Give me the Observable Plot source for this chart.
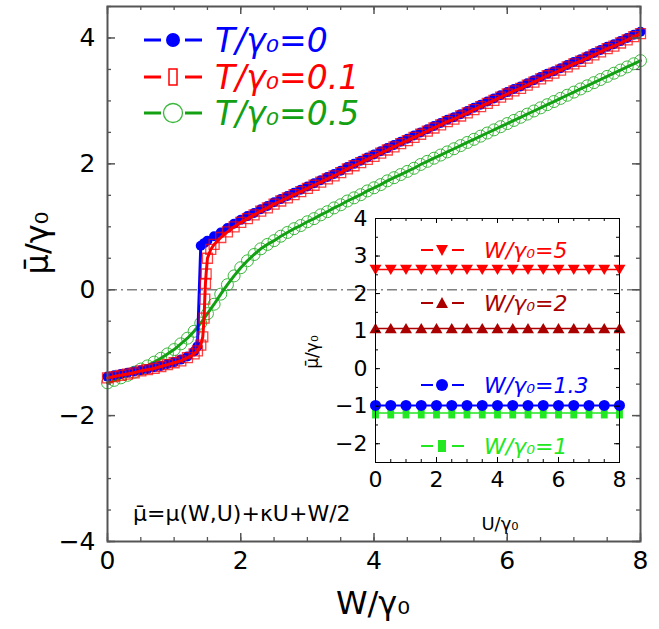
<!DOCTYPE html>
<html><head><meta charset="utf-8">
<script src="https://cdn.jsdelivr.net/npm/d3@7"></script>
<script src="https://cdn.jsdelivr.net/npm/@observablehq/plot@0.6"></script>
<style>
body{margin:0;background:#fff}
#wrap{position:relative;width:659px;height:629px;overflow:hidden}
#inset{position:absolute;left:290px;top:195px}
</style>
</head><body><div id="wrap"><div id="main"></div><div id="inset"></div></div>
<script>
// ---------- main chart data: mu-bar/gamma0 vs W/gamma0 ----------
const wT0 = [0,0.1,0.2,0.3,0.4,0.5,0.6,0.7,0.8,0.9,1.0,1.1,1.2,1.3,1.35,1.4,1.45,1.5,1.6,1.7,1.8,1.9,2.0,2.1,2.2,2.3,2.4,2.5,2.6,2.7,2.8,2.9,3.0,3.1,3.2,3.3,3.4,3.5,3.6,3.7,3.8,3.9,4.0,4.1,4.2,4.3,4.4,4.5,4.6,4.7,4.8,4.9,5.0,5.1,5.2,5.3,5.4,5.5,5.6,5.7,5.8,5.9,6.0,6.1,6.2,6.3,6.4,6.5,6.6,6.7,6.8,6.9,7.0,7.1,7.2,7.3,7.4,7.5,7.6,7.7,7.8,7.9,8.0];
const muT0 = [-1.38,-1.36,-1.34,-1.32,-1.30,-1.28,-1.26,-1.23,-1.21,-1.18,-1.15,-1.11,-1.06,-0.98,-0.90,0.70,0.74,0.78,0.85,0.91,0.98,1.05,1.11,1.17,1.22,1.28,1.33,1.39,1.44,1.49,1.54,1.59,1.64,1.69,1.74,1.79,1.84,1.89,1.95,2.00,2.05,2.10,2.15,2.20,2.25,2.30,2.35,2.40,2.45,2.50,2.55,2.60,2.65,2.70,2.74,2.79,2.84,2.89,2.94,2.99,3.04,3.09,3.14,3.19,3.23,3.28,3.33,3.38,3.43,3.47,3.52,3.57,3.62,3.66,3.71,3.76,3.81,3.86,3.90,3.95,4.00,4.05,4.10];

const wT01 = [0,0.1,0.2,0.3,0.4,0.5,0.6,0.7,0.8,0.9,1.0,1.1,1.2,1.3,1.35,1.4,1.43,1.45,1.46,1.47,1.48,1.5,1.55,1.6,1.7,1.8,1.9,2.0,2.1,2.2,2.3,2.4,2.5,2.6,2.7,2.8,2.9,3.0,3.1,3.2,3.3,3.4,3.5,3.6,3.7,3.8,3.9,4.0,4.1,4.2,4.3,4.4,4.5,4.6,4.7,4.8,4.9,5.0,5.1,5.2,5.3,5.4,5.5,5.6,5.7,5.8,5.9,6.0,6.1,6.2,6.3,6.4,6.5,6.6,6.7,6.8,6.9,7.0,7.1,7.2,7.3,7.4,7.5,7.6,7.7,7.8,7.9,8.0];
const muT01 = [-1.40,-1.38,-1.36,-1.34,-1.32,-1.29,-1.27,-1.25,-1.22,-1.19,-1.16,-1.13,-1.08,-1.02,-0.97,-0.88,-0.75,-0.45,-0.15,0.10,0.25,0.50,0.64,0.72,0.83,0.92,1.00,1.07,1.13,1.19,1.25,1.30,1.36,1.41,1.46,1.51,1.56,1.61,1.66,1.71,1.76,1.81,1.86,1.92,1.97,2.02,2.07,2.12,2.17,2.22,2.27,2.32,2.37,2.42,2.47,2.52,2.57,2.62,2.67,2.71,2.76,2.81,2.86,2.91,2.96,3.01,3.06,3.11,3.16,3.20,3.25,3.30,3.35,3.40,3.44,3.49,3.54,3.59,3.63,3.68,3.73,3.78,3.83,3.87,3.92,3.97,4.02,4.07];

const wT05 = [0,0.1,0.2,0.3,0.4,0.5,0.6,0.7,0.8,0.9,1.0,1.1,1.2,1.3,1.4,1.5,1.6,1.7,1.8,1.9,2.0,2.1,2.2,2.3,2.4,2.5,2.6,2.7,2.8,2.9,3.0,3.1,3.2,3.3,3.4,3.5,3.6,3.7,3.8,3.9,4.0,4.1,4.2,4.3,4.4,4.5,4.6,4.7,4.8,4.9,5.0,5.1,5.2,5.3,5.4,5.5,5.6,5.7,5.8,5.9,6.0,6.1,6.2,6.3,6.4,6.5,6.6,6.7,6.8,6.9,7.0,7.1,7.2,7.3,7.4,7.5,7.6,7.7,7.8,7.9,8.0];
const muT05 = [-1.48,-1.44,-1.40,-1.36,-1.31,-1.26,-1.21,-1.15,-1.09,-1.02,-0.95,-0.86,-0.77,-0.66,-0.53,-0.38,-0.23,-0.07,0.08,0.22,0.35,0.46,0.56,0.65,0.72,0.78,0.85,0.91,0.97,1.02,1.08,1.13,1.19,1.24,1.30,1.35,1.41,1.46,1.51,1.57,1.62,1.67,1.73,1.78,1.83,1.88,1.93,1.99,2.04,2.09,2.14,2.19,2.24,2.29,2.34,2.39,2.44,2.49,2.54,2.59,2.64,2.69,2.74,2.79,2.84,2.89,2.94,2.99,3.04,3.09,3.14,3.19,3.24,3.29,3.34,3.39,3.44,3.49,3.54,3.59,3.64];

// ---------- inset data: mu-bar/gamma0 vs U/gamma0 ----------
const uVals = [0,0.5,1,1.5,2,2.5,3,3.5,4,4.5,5,5.5,6,6.5,7,7.5,8];
const muW5  = [2.64,2.64,2.64,2.64,2.64,2.64,2.64,2.64,2.64,2.64,2.64,2.64,2.64,2.64,2.64,2.64,2.64];
const muW2  = [1.07,1.07,1.07,1.07,1.07,1.07,1.07,1.07,1.07,1.07,1.07,1.07,1.07,1.07,1.07,1.07,1.07];
const muW13 = [-0.98,-0.98,-0.98,-0.98,-0.98,-0.98,-0.98,-0.98,-0.98,-0.98,-0.98,-0.98,-0.98,-0.98,-0.98,-0.98,-0.98];
const muW1  = [-1.18,-1.18,-1.18,-1.18,-1.18,-1.18,-1.18,-1.18,-1.18,-1.18,-1.18,-1.18,-1.18,-1.18,-1.18,-1.18,-1.18];

// ---------- ticks & labels ----------
const xTickLabels = [0,2,4,6,8];
const yTickLabels = [-4,-2,0,2,4];
const insetXTicks = [0,2,4,6,8];
const insetYTicks = [-2,-1,0,1,2,3,4];
const mainLegend = ["T/γ₀=0","T/γ₀=0.1","T/γ₀=0.5"];
const insetLegend = ["W/γ₀=5","W/γ₀=2","W/γ₀=1.3","W/γ₀=1"];

const FONT = "DejaVu Sans";
const BLUE = "#0000ff", RED = "#ff0000", GREEN = "#13a013", GREEN_L = "#3cb83c", DRED = "#aa0000", LGREEN = "#22e822";
const fmt = d => d < 0 ? "\u2212" + (-d) : String(d);

const rows = (ws, ms) => ws.map((w, i) => ({w, mu: ms[i]}));
const r0 = rows(wT0, muT0), r1 = rows(wT01, muT01), r5 = rows(wT05, muT05);

const rad = s => Math.sqrt(s / Math.PI);
const sqSym = {draw(c, s){const r = rad(s); c.moveTo(-r,-r); c.lineTo(r,-r); c.lineTo(r,r); c.lineTo(-r,r); c.closePath();}};
const tallSym = {draw(c, s){const r = rad(s), a = r*0.62; c.moveTo(-a,-r); c.lineTo(a,-r); c.lineTo(a,r); c.lineTo(-a,r); c.closePath();}};
const triDown = {draw(c, s){const r = rad(s); c.moveTo(-r,-r*0.8); c.lineTo(r,-r*0.8); c.lineTo(0,r*0.9); c.closePath();}};
const triUp = {draw(c, s){const r = rad(s); c.moveTo(-r,r*0.8); c.lineTo(r,r*0.8); c.lineTo(0,-r*0.9); c.closePath();}};

// ---------- main plot ----------
const W = 659, H = 629, mL = 107, mR = 19, mT = 6, mB = 88;
const pw = W - mL - mR, ph = H - mT - mB;
const xMinor = d3.range(0, 8.001, 0.5), yMinor = d3.range(-4, 4.501, 0.5);
const FR = "#555";

const main = Plot.plot({
  width: W, height: H, marginLeft: mL, marginRight: mR, marginTop: mT, marginBottom: mB,
  style: {fontFamily: FONT, background: "white", color: "black"},
  x: {domain: [0, 8], axis: null},
  y: {domain: [-4, 4.5], axis: null},
  marks: [
    Plot.ruleY([0], {stroke: "#808080", strokeWidth: 1.5, strokeDasharray: "10,4,2,4"}),
    Plot.dot(r5, {x: "w", y: "mu", r: 6, stroke: GREEN_L, strokeWidth: 1, fill: "none"}),
    Plot.line(r5, {x: "w", y: "mu", stroke: GREEN, strokeWidth: 3}),
    Plot.dot(r0, {x: "w", y: "mu", r: 5, fill: BLUE, stroke: "none"}),
    Plot.line(r0, {x: "w", y: "mu", stroke: BLUE, strokeWidth: 3}),
    Plot.dot(r1, {x: "w", y: "mu", r: 5, symbol: sqSym, stroke: RED, strokeOpacity: 0.75, strokeWidth: 1.3, fill: "none"}),
    Plot.line(r1, {x: "w", y: "mu", stroke: RED, strokeWidth: 3}),
    Plot.frame({stroke: FR, strokeWidth: 2}),
    Plot.tickX(xMinor, {x: d => d, insetTop: ph - 4, stroke: FR, strokeWidth: 1.3}),
    Plot.tickX(xMinor, {x: d => d, insetBottom: ph - 4, stroke: FR, strokeWidth: 1.3}),
    Plot.tickX(xTickLabels, {x: d => d, insetTop: ph - 8, stroke: FR, strokeWidth: 1.5}),
    Plot.tickX(xTickLabels, {x: d => d, insetBottom: ph - 8, stroke: FR, strokeWidth: 1.5}),
    Plot.tickY(yMinor, {y: d => d, insetRight: pw - 4, stroke: FR, strokeWidth: 1.3}),
    Plot.tickY(yMinor, {y: d => d, insetLeft: pw - 4, stroke: FR, strokeWidth: 1.3}),
    Plot.tickY(yTickLabels, {y: d => d, insetRight: pw - 8, stroke: FR, strokeWidth: 1.5}),
    Plot.tickY(yTickLabels, {y: d => d, insetLeft: pw - 8, stroke: FR, strokeWidth: 1.5}),
    Plot.axisX(xTickLabels, {tickSize: 0, tickPadding: 10, fontSize: 25, label: null, fill: "black", tickFormat: fmt}),
    Plot.axisY(yTickLabels, {tickSize: 0, tickPadding: 12, fontSize: 25, label: null, fill: "black", tickFormat: fmt})
  ]
});
document.getElementById("main").appendChild(main);

const ms = d3.select(main);
ms.append("text").attr("x", 373).attr("y", 614).attr("text-anchor", "middle")
  .attr("font-size", 32).attr("font-family", FONT).text("W/γ₀");
ms.append("text").attr("transform", "translate(48,243) rotate(-90)").attr("text-anchor", "middle")
  .attr("font-size", 32).attr("font-family", FONT).text("μ̄/γ₀");
ms.append("text").attr("x", 133).attr("y", 521).attr("text-anchor", "start").attr("font-size", 22).attr("font-family", FONT)
  .text("μ̄=μ(W,U)+κU+W/2");

// main legend
const mlCol = [BLUE, RED, GREEN], mlY = [40, 77, 113];
mainLegend.forEach((lab, i) => {
  const g = ms.append("g"), y = mlY[i], c = mlCol[i];
  g.append("line").attr("x1", 144).attr("x2", 161).attr("y1", y).attr("y2", y).attr("stroke", c).attr("stroke-width", 3);
  g.append("line").attr("x1", 185).attr("x2", 202).attr("y1", y).attr("y2", y).attr("stroke", c).attr("stroke-width", 3);
  if (i === 0) g.append("circle").attr("cx", 173).attr("cy", y).attr("r", 7).attr("fill", c);
  if (i === 1) g.append("rect").attr("x", 169).attr("y", y - 8).attr("width", 8).attr("height", 16).attr("fill", "none").attr("stroke", c).attr("stroke-width", 1.5);
  if (i === 2) g.append("circle").attr("cx", 173).attr("cy", y).attr("r", 9.5).attr("fill", "none").attr("stroke", GREEN_L).attr("stroke-width", 1.3);
  g.append("text").attr("x", 215).attr("y", y + 12).attr("text-anchor", "start").attr("font-size", 33).attr("font-style", "italic")
    .attr("font-family", FONT).attr("fill", c).text(lab);
});

// ---------- inset ----------
const IW = 340, IH = 345, iL = 85, iR = 11, iT = 23, iB = 78;
const ipw = IW - iL - iR, iph = IH - iT - iB;
const uMinor = d3.range(0, 8.001, 0.5), mMinor = d3.range(-2.5, 4.001, 0.5);
const rw5 = rows(uVals, muW5), rw2 = rows(uVals, muW2), rw13 = rows(uVals, muW13), rw1 = rows(uVals, muW1);

const inset = Plot.plot({
  width: IW, height: IH, marginLeft: iL, marginRight: iR, marginTop: iT, marginBottom: iB,
  style: {fontFamily: FONT, background: "transparent", color: "black"},
  x: {domain: [0, 8], axis: null},
  y: {domain: [-2.5, 4], axis: null},
  marks: [
    Plot.line(rw5, {x: "w", y: "mu", stroke: RED, strokeWidth: 1.5}),
    Plot.dot(rw5, {x: "w", y: "mu", r: 6, symbol: triDown, fill: RED, stroke: "none"}),
    Plot.line(rw2, {x: "w", y: "mu", stroke: DRED, strokeWidth: 1.5}),
    Plot.dot(rw2, {x: "w", y: "mu", r: 6, symbol: triUp, fill: DRED, stroke: "none"}),
    Plot.line(rw1, {x: "w", y: "mu", stroke: LGREEN, strokeWidth: 1.5}),
    Plot.dot(rw1, {x: "w", y: "mu", r: 5.5, symbol: tallSym, fill: LGREEN, stroke: "none"}),
    Plot.line(rw13, {x: "w", y: "mu", stroke: BLUE, strokeWidth: 2}),
    Plot.dot(rw13, {x: "w", y: "mu", r: 5.5, fill: BLUE, stroke: "none"}),
    Plot.frame({stroke: "black", strokeWidth: 1}),
    Plot.tickX(uMinor, {x: d => d, insetTop: iph - 3, stroke: "black"}),
    Plot.tickX(uMinor, {x: d => d, insetBottom: iph - 3, stroke: "black"}),
    Plot.tickX(insetXTicks, {x: d => d, insetTop: iph - 5, stroke: "black"}),
    Plot.tickX(insetXTicks, {x: d => d, insetBottom: iph - 5, stroke: "black"}),
    Plot.tickY(mMinor, {y: d => d, insetRight: ipw - 3, stroke: "black"}),
    Plot.tickY(mMinor, {y: d => d, insetLeft: ipw - 3, stroke: "black"}),
    Plot.tickY(insetYTicks, {y: d => d, insetRight: ipw - 5, stroke: "black"}),
    Plot.tickY(insetYTicks, {y: d => d, insetLeft: ipw - 5, stroke: "black"}),
    Plot.axisX(insetXTicks, {tickSize: 0, tickPadding: 9, fontSize: 22, label: null, fill: "black", tickFormat: fmt}),
    Plot.axisY(insetYTicks, {tickSize: 0, tickPadding: 8, fontSize: 22, label: null, fill: "black", tickFormat: fmt})
  ]
});
document.getElementById("inset").appendChild(inset);
const is = d3.select(inset);
const ox = 290, oy = 195;
is.append("text").attr("x", 500 - ox).attr("y", 530 - oy).attr("text-anchor", "middle")
  .attr("font-size", 18).attr("font-family", FONT).text("U/γ₀");
is.append("text").attr("transform", `translate(${318 - ox},${352 - oy}) rotate(-90)`).attr("text-anchor", "middle")
  .attr("font-size", 17).attr("font-family", FONT).text("μ̄/γ₀");

const ilCol = [RED, DRED, BLUE, LGREEN];
const ilY = [250, 303, 385, 446], ilSym = ["down", "up", "dot", "rect"];
insetLegend.forEach((lab, i) => {
  const g = is.append("g").attr("transform", `translate(${-ox},${-oy})`), y = ilY[i], c = ilCol[i];
  g.append("line").attr("x1", 421).attr("x2", 433).attr("y1", y).attr("y2", y).attr("stroke", c).attr("stroke-width", 2);
  g.append("line").attr("x1", 452).attr("x2", 464).attr("y1", y).attr("y2", y).attr("stroke", c).attr("stroke-width", 2);
  const s = ilSym[i];
  if (s === "down") g.append("path").attr("d", `M${436},${y-5}L${448},${y-5}L${442},${y+6}Z`).attr("fill", c);
  if (s === "up") g.append("path").attr("d", `M${436},${y+5}L${448},${y+5}L${442},${y-6}Z`).attr("fill", c);
  if (s === "dot") g.append("circle").attr("cx", 442).attr("cy", y).attr("r", 6).attr("fill", c);
  if (s === "rect") g.append("rect").attr("x", 438).attr("y", y - 6).attr("width", 8).attr("height", 12).attr("fill", c);
  g.append("text").attr("x", 484).attr("y", y + 8).attr("text-anchor", "start").attr("font-size", 22).attr("font-style", "italic")
    .attr("font-family", FONT).attr("fill", c).text(lab);
});
</script>
</body></html>
